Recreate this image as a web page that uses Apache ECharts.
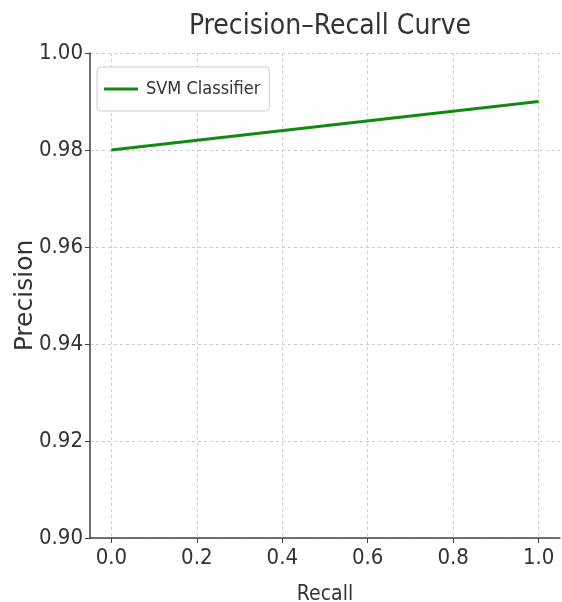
<!DOCTYPE html>
<html><head><meta charset="utf-8">
<script src="https://cdn.jsdelivr.net/npm/echarts@6/dist/echarts.min.js"></script>
<style>html,body{margin:0;padding:0;background:#fff}#c{width:562px;height:602px}</style>
</head><body><div id="c"></div>
<script>
const recall = [0.0, 1.0];
const precision = [0.98, 0.99];
const xTicks = [0.0, 0.2, 0.4, 0.6, 0.8, 1.0];
const seriesName = 'SVM Classifier';
const FONT = '"DejaVu Sans Condensed", "DejaVu Sans", sans-serif';

const chart = echarts.init(document.getElementById('c'));
chart.setOption({
  animation: false,
  backgroundColor: '#fff',
  title: {
    text: 'Precision–Recall Curve',
    left: 325, top: 8, textAlign: 'center',
    textStyle: {fontFamily: FONT, fontSize: 28, fontWeight: 'normal', color: '#333'}
  },
  legend: {
    left: 97, top: 67,
    data: [{name: seriesName, icon: 'rect'}],
    itemWidth: 34, itemHeight: 3, itemGap: 10,
    padding: [13, 9, 13, 7],
    borderColor: '#ccc', borderWidth: 1, borderRadius: 4,
    backgroundColor: '#fff',
    textStyle: {fontFamily: FONT, fontSize: 18, color: '#333', padding: [0,0,0,3]}
  },
  grid: {left: 90, right: 2, top: 53, bottom: 64, containLabel: false, outerBoundsMode: 'none'},
  xAxis: {
    type: 'value', min: -0.05, max: 1.05,
    name: 'Recall', nameLocation: 'middle', nameGap: 46,
    nameTextStyle: {fontFamily: FONT, fontSize: 21, color: '#333'},
    axisLine: {show: true, onZero: false, lineStyle: {color: '#444', width: 1.5}},
    axisTick: {show: true, length: 5, customValues: xTicks, lineStyle: {color: '#444'}},
    axisLabel: {customValues: xTicks, formatter: v => v.toFixed(1), fontFamily: FONT, fontSize: 22, color: '#333', margin: 9},
    splitLine: {show: true, lineStyle: {type: [3, 3], color: '#ccc', width: 1}}
  },
  yAxis: {
    type: 'value', min: 0.9, max: 1.0, interval: 0.02,
    name: 'Precision', nameLocation: 'middle', nameGap: 52, nameMoveOverlap: false,
    nameTextStyle: {fontFamily: '"DejaVu Sans", sans-serif', fontSize: 25, color: '#333'},
    axisLine: {show: true, onZero: false, lineStyle: {color: '#444', width: 1.5}},
    axisTick: {show: true, length: 5, lineStyle: {color: '#444'}},
    axisLabel: {formatter: v => v.toFixed(2), fontFamily: FONT, fontSize: 22, color: '#333', margin: 7},
    splitLine: {show: true, lineStyle: {type: [3, 3], color: '#ccc', width: 1}}
  },
  series: [{
    name: seriesName, type: 'line',
    data: recall.map((r, i) => [r, precision[i]]),
    showSymbol: false, symbol: 'none',
    lineStyle: {color: '#118a11', width: 3},
    itemStyle: {color: '#118a11'}
  }]
});
</script></body></html>
